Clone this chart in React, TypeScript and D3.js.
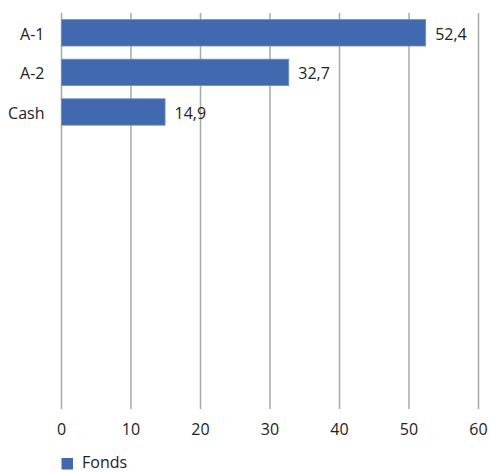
import React from "react";
import * as d3 from "d3";

const categories = ["A-1", "A-2", "Cash"];
const values = [52.4, 32.7, 14.9];
const xTicks = [0, 10, 20, 30, 40, 50, 60];
const seriesName = "Fonds";

const W = 490;
const H = 472;
const FONT = "'Open Sans', 'Noto Sans', sans-serif";

export default function App() {
  const x = d3.scaleLinear().domain([0, 60]).range([61.5, 478.5]);
  const y = d3
    .scaleBand<string>()
    .domain(categories)
    .range([13, 13 + 3 * 39.6])
    .paddingInner(0.333)
    .paddingOuter(0.1667);
  const gridTop = 13;
  const gridBottom = 409;
  const fmt = (v: number) => v.toFixed(1).replace(".", ",");

  return (
    <svg
      width={W}
      height={H}
      style={{ position: "absolute", left: 0, top: 0, background: "#fff" }}
      fontFamily={FONT}
    >
      {xTicks.map((t) => (
        <g key={t}>
          <line
            x1={x(t)}
            x2={x(t)}
            y1={gridTop}
            y2={gridBottom}
            stroke="#a8a8a8"
            strokeWidth={1.5}
          />
          <text
            x={x(t)}
            y={435}
            textAnchor="middle"
            fontSize={16}
            fill="#222"
          >
            {t}
          </text>
        </g>
      ))}
      {categories.map((c, i) => (
        <g key={c}>
          <rect
            x={x(0)}
            y={y(c)!}
            width={x(values[i]) - x(0)}
            height={y.bandwidth()}
            fill="#4169b0"
            stroke="#6f8fc8"
            strokeWidth={0.8}
          />
          <text
            x={44.5}
            y={y(c)! + y.bandwidth() / 2}
            dy="0.43em"
            textAnchor="end"
            fontSize={16}
            fill="#222"
          >
            {c}
          </text>
          <text
            x={x(values[i]) + 9.5}
            y={y(c)! + y.bandwidth() / 2}
            dy="0.43em"
            textAnchor="start"
            fontSize={16}
            fill="#222"
          >
            {fmt(values[i])}
          </text>
        </g>
      ))}
      <rect x={61.5} y={458} width={11.5} height={11.5} fill="#4169b0" />
      <text x={82} y={468} fontSize={16} fill="#222">
        {seriesName}
      </text>
    </svg>
  );
}
